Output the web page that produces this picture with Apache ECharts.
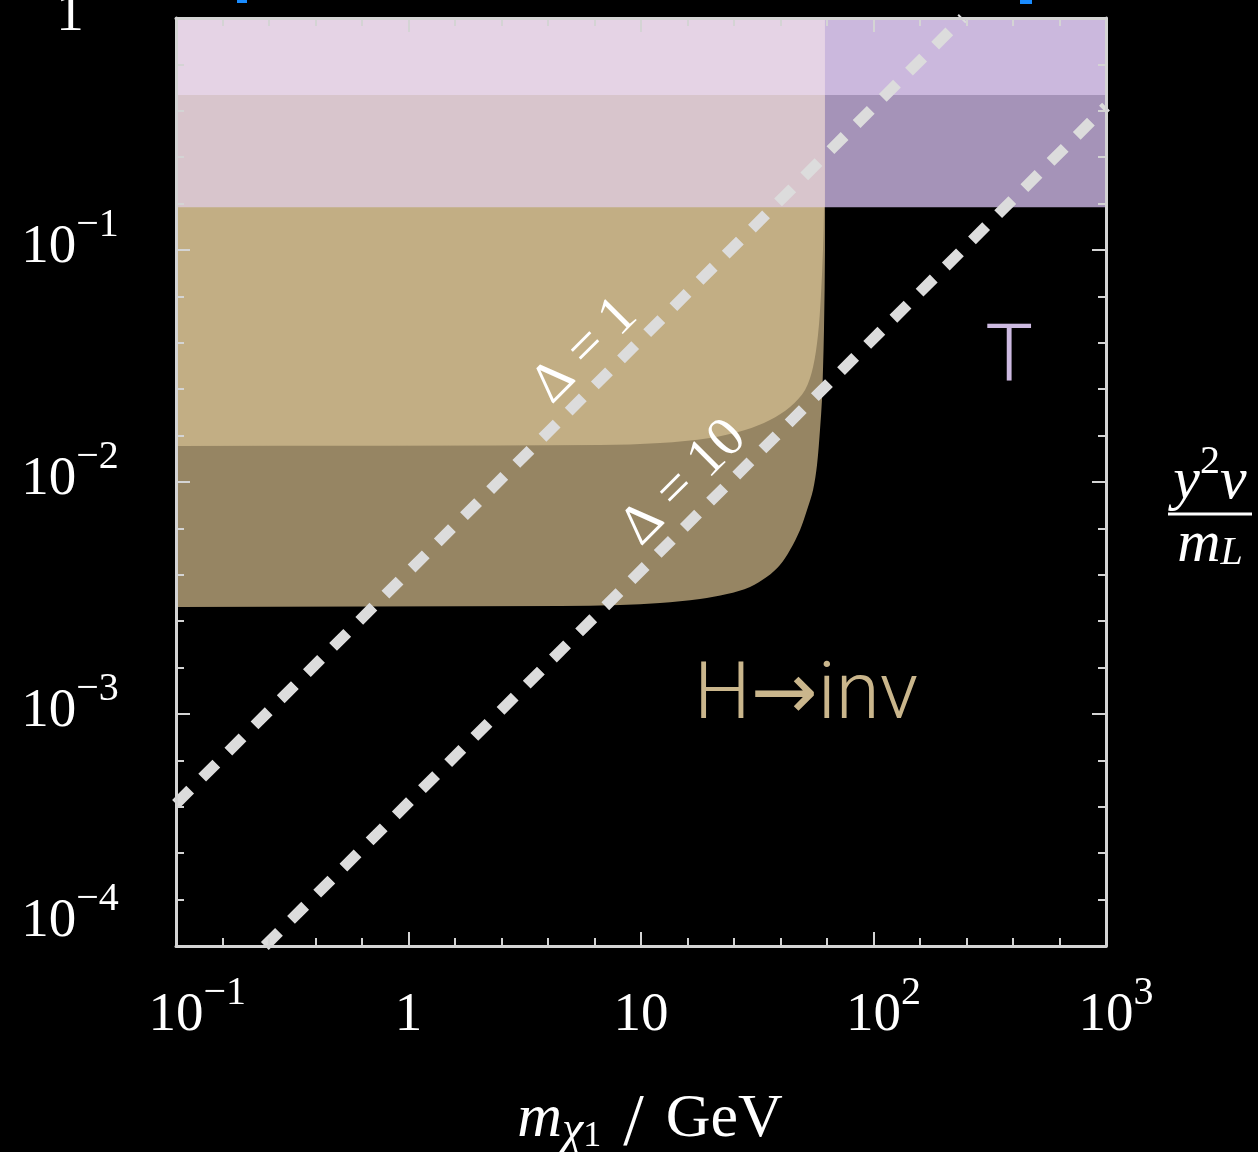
<!DOCTYPE html>
<html>
<head>
<meta charset="utf-8">
<script src="https://cdn.jsdelivr.net/npm/echarts@6/dist/echarts.min.js"></script>
<style>
  html, body { margin: 0; padding: 0; background: #000; }
  #chart { width: 1258px; height: 1152px; }
</style>
</head>
<body>
<div id="chart"></div>
<script>
// ---- axis ranges and tick labels ----
const xRange = [0.1, 1000];            // m_chi1 / GeV
const yRange = [1e-4, 1];              // y^2 v / m_L
const xTickValues = [0.1, 1, 10, 100, 1000];
const xTickText = ['10^−1', '1', '10', '10^2', '10^3'];
const yTickValues = [1e-4, 1e-3, 1e-2, 1e-1, 1];
const yTickText = ['10^−4', '10^−3', '10^−2', '10^−1', '1'];

// ---- H -> inv exclusion boundaries: [mass, coupling] ----
const hinvOuter = [
  [0.1, 0.00289], [4.48, 0.00292], [8.12, 0.00295], [12.07, 0.00301],
  [17.94, 0.00313], [23.44, 0.00329], [29.44, 0.00353], [34.83, 0.00390],
  [39.60, 0.00439], [43.74, 0.00509], [48.31, 0.00621], [51.76, 0.00757],
  [54.95, 0.00924], [57.15, 0.01184], [58.86, 0.01675], [60.03, 0.02256],
  [60.63, 0.03039], [61.24, 0.04519], [61.85, 0.1], [61.85, 1]
];
const hinvInner = [
  [0.1, 0.01429], [6.66, 0.01443], [12.07, 0.01472], [19.81, 0.01548],
  [28.02, 0.01675], [35.88, 0.01850], [43.74, 0.02105], [50.76, 0.02492],
  [54.95, 0.03131], [57.71, 0.04300], [59.44, 0.06397], [60.63, 0.1],
  [61.24, 0.1487], [61.85, 1]
];

// ---- T-parameter bounds on the coupling ----
const tBoundLoose = 0.153;
const tBoundTight = 0.466;

// ---- Delta contours: [mass, coupling] end points ----
const delta1Line = [[0.1, 4.1e-4], [242, 1]];
const delta10Line = [[0.241, 1e-4], [1000, 0.415]];

// ---- annotations ----
const lineLabels = [
  { text: 'Δ = 1', at: [5.74, 0.0367] },
  { text: 'Δ = 10', at: [15.3, 0.0099] }
];
const regionLabels = [
  { text: '{h|T}', at: [383, 0.0332], color: '#cdbae1' },
  { text: '{h|H}{a|→}{h|inv}', at: [51.3, 0.00117], color: '#cab68c' }
];

const SERIF = '"Liberation Serif", "DejaVu Serif", serif';
const SANS = 'Roboto, "Open Sans", sans-serif';
const FRAME = '#d4d4d4';

function tickIndex(values, v) {
  const lv = Math.log10(v);
  let best = 0;
  values.forEach((t, i) => {
    if (Math.abs(Math.log10(t) - lv) < Math.abs(Math.log10(values[best]) - lv)) best = i;
  });
  return best;
}

// mass where the H -> inv region meets the top of the plot
const xEdge = hinvOuter[hinvOuter.length - 1][0];

// smooth cubic path through pixel points (chord-length tangents, no overshoot loops)
function smoothPathData(pts) {
  const n = pts.length;
  const dist = (a, b) => Math.hypot(b[0] - a[0], b[1] - a[1]);
  const tan = pts.map((p, i) => {
    const a = pts[Math.max(i - 1, 0)], b = pts[Math.min(i + 1, n - 1)];
    const L = dist(a, p) + dist(p, b) || 1;
    return [(b[0] - a[0]) / L, (b[1] - a[1]) / L];
  });
  let d = `M${pts[0][0]},${pts[0][1]}`;
  for (let i = 0; i < n - 1; i++) {
    const p1 = pts[i], p2 = pts[i + 1], h = dist(p1, p2) / 3;
    d += ` C${p1[0] + tan[i][0] * h},${p1[1] + tan[i][1] * h} ${p2[0] - tan[i + 1][0] * h},${p2[1] - tan[i + 1][1] * h} ${p2[0]},${p2[1]}`;
  }
  return d;
}

// filled region bounded by a smooth curve, closed through the given corner points
function curveRegion(curve, corners, color, z) {
  return {
    type: 'custom', xAxisIndex: 0, yAxisIndex: 0, z: z, silent: true,
    data: [[1, 0.01]],
    renderItem: (params, api) => {
      let d = smoothPathData(curve.map(p => api.coord(p)));
      corners.forEach(c => { const q = api.coord(c); d += ` L${q[0]},${q[1]}`; });
      return { type: 'path', shape: { pathData: d + ' Z' }, style: { fill: color } };
    }
  };
}

function rectRegion(x0, x1, y0, y1, color, z) {
  return {
    type: 'custom', xAxisIndex: 0, yAxisIndex: 0, z: z, silent: true,
    data: [[1, 0.01]],
    renderItem: (params, api) => ({
      type: 'polygon',
      shape: { points: [[x0, y0], [x1, y0], [x1, y1], [x0, y1]].map(p => api.coord(p)) },
      style: { fill: color }
    })
  };
}

// text annotations placed at data coordinates
function textSeries(items, styleFor, rotationDeg) {
  return {
    type: 'custom', xAxisIndex: 0, yAxisIndex: 0, z: 6, silent: true, clip: false,
    data: items.map(it => it.at),
    renderItem: (params, api) => {
      const it = items[params.dataIndex];
      const p = api.coord(it.at);
      return {
        type: 'text', x: p[0], y: p[1],
        rotation: rotationDeg * Math.PI / 180,
        style: Object.assign({ text: it.text, align: 'center', verticalAlign: 'middle' }, styleFor(it))
      };
    }
  };
}

const powRich = {
  b: { fontFamily: SERIF, fontSize: 55, lineHeight: 70, verticalAlign: 'bottom', color: '#fff' },
  s: { fontFamily: SERIF, fontSize: 40, lineHeight: 30, verticalAlign: 'top', color: '#fff' },
  pad: { fontFamily: SERIF, fontSize: 40, lineHeight: 30, verticalAlign: 'top', color: 'rgba(0,0,0,0)' },
  gap: { fontSize: 1, lineHeight: 44 }
};

const tickAxisCommon = {
  type: 'value',
  z: 10,
  axisLine: { show: true, onZero: false, lineStyle: { color: FRAME, width: 3 } },
  axisTick: { show: true, inside: true, length: 14, lineStyle: { color: FRAME, width: 2 } },
  minorTick: { show: true, splitNumber: 5, length: 8, lineStyle: { color: FRAME, width: 2 } },
  axisLabel: { show: false },
  splitLine: { show: false },
  minorSplitLine: { show: false }
};

const nameRich = {
  i: { fontFamily: SERIF, fontStyle: 'italic', fontSize: 62, lineHeight: 60, verticalAlign: 'top', color: '#fff' },
  si: { fontFamily: SERIF, fontStyle: 'italic', fontSize: 48, lineHeight: 14, verticalAlign: 'bottom', color: '#fff' },
  su: { fontFamily: SERIF, fontSize: 36, lineHeight: 4, verticalAlign: 'bottom', color: '#fff' },
  sp: { fontSize: 10, width: 22, lineHeight: 60, verticalAlign: 'top' },
  sl: { fontFamily: SERIF, fontSize: 74, lineHeight: 66, verticalAlign: 'top', color: '#fff' },
  r: { fontFamily: SERIF, fontSize: 62, lineHeight: 60, verticalAlign: 'top', color: '#fff' }
};

const option = {
  backgroundColor: '#000',
  animation: false,
  grid: { left: 176, right: 152, top: 18, bottom: 206, containLabel: false, outerBoundsMode: 'none' },
  xAxis: [
    {
      type: 'log', logBase: 10, min: xRange[0], max: xRange[1], position: 'bottom',
      axisLine: { show: false }, axisTick: { show: false }, splitLine: { show: false },
      axisLabel: {
        show: true, margin: 27, interval: 0,
        formatter: v => {
          const [base, sup] = xTickText[tickIndex(xTickValues, v)].split('^');
          return sup ? `{pad|${sup}}{b|${base}}{s|${sup}}` : `{b|${base}}`;
        },
        rich: powRich
      },
      name: '{i|m}{si|χ}{su|1}{sp| }{sl|/}{sp| }{r|GeV}',
      nameLocation: 'middle', nameGap: 143,
      nameTextStyle: { padding: [0, 0, 0, 18], rich: nameRich }
    },
    Object.assign({}, tickAxisCommon, { min: -1, max: 3, interval: 1, position: 'bottom' }),
    Object.assign({}, tickAxisCommon, { min: -1, max: 3, interval: 1, position: 'top' })
  ],
  yAxis: [
    {
      type: 'log', logBase: 10, min: yRange[0], max: yRange[1], position: 'left',
      axisLine: { show: false }, axisTick: { show: false }, splitLine: { show: false },
      axisLabel: {
        show: true, margin: 106, align: 'center', interval: 0,
        padding: [0, 0, 20, 0],
        formatter: v => {
          const i = tickIndex(yTickValues, v);
          const [base, sup] = yTickText[i].split('^');
          let s = `{b|${base}}` + (sup ? `{s|${sup}}` : '');
          if (i === 0) s += '\n{gap| }';
          return s;
        },
        rich: powRich
      }
    },
    Object.assign({}, tickAxisCommon, { min: -4, max: 0, interval: 1, position: 'left' }),
    Object.assign({}, tickAxisCommon, {
      min: -4, max: 0, interval: 1, position: 'right',
      name: '{n|y}{ns|2}{n|v}\n{bar| }\n{d|m}{ds|L}',
      nameLocation: 'middle', nameRotate: 0, nameGap: 62,
      nameTextStyle: {
        padding: [52, 0, 0, 0],
        rich: {
          n: { fontFamily: SERIF, fontStyle: 'italic', fontSize: 60, lineHeight: 70, verticalAlign: 'bottom', align: 'center', color: '#fff' },
          ns: { fontFamily: SERIF, fontSize: 40, lineHeight: 30, verticalAlign: 'top', align: 'center', color: '#fff' },
          bar: { fontSize: 1, lineHeight: 3, height: 3, width: 84, backgroundColor: '#fff', align: 'center' },
          d: { fontFamily: SERIF, fontStyle: 'italic', fontSize: 60, lineHeight: 58, verticalAlign: 'top', align: 'center', color: '#fff' },
          ds: { fontFamily: SERIF, fontStyle: 'italic', fontSize: 40, lineHeight: 16, verticalAlign: 'bottom', align: 'center', color: '#fff' }
        }
      }
    })
  ],
  series: [
    curveRegion(hinvOuter, [[xRange[0], yRange[1]]], '#968563', 1),
    curveRegion(hinvInner, [[xRange[0], yRange[1]]], '#c2ae84', 2),
    rectRegion(xRange[0], xEdge, tBoundLoose, yRange[1], '#d8c5cc', 3),
    rectRegion(xEdge, xRange[1], tBoundLoose, yRange[1], '#a593b8', 3),
    rectRegion(xRange[0], xEdge, tBoundTight, yRange[1], '#e5d3e5', 4),
    rectRegion(xEdge, xRange[1], tBoundTight, yRange[1], '#cbb8dd', 4),
    ...[delta1Line, delta10Line].map(d => ({
      type: 'line', xAxisIndex: 0, yAxisIndex: 0, data: d, z: 5, silent: true,
      symbol: 'none', showSymbol: false,
      lineStyle: { color: '#dcdcdc', width: 11, type: [20, 17], cap: 'butt' }
    })),
    textSeries(lineLabels, () => ({
      fontFamily: SERIF, fontSize: 56, fill: '#ffffff'
    }), 45),
    textSeries(regionLabels, it => ({
      fill: it.color,
      rich: {
        h: { fontFamily: SANS, fontWeight: 300, fontSize: 80, fill: it.color, color: it.color },
        a: { fontFamily: '"DejaVu Sans", sans-serif', fontWeight: 'normal', fontSize: 80, fill: it.color, color: it.color }
      }
    }), 0)
  ],
  graphic: [
    { type: 'rect', shape: { x: 237, y: 0, width: 10, height: 3 }, style: { fill: '#1a8cff' }, silent: true },
    { type: 'rect', shape: { x: 1020, y: 0, width: 12, height: 4 }, style: { fill: '#1a8cff' }, silent: true }
  ]
};

const chart = echarts.init(document.getElementById('chart'));
chart.setOption(option);
</script>
</body>
</html>
